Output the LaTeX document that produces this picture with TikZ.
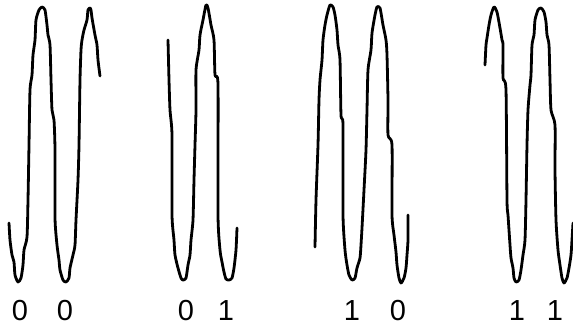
\documentclass[tikz,border=0pt]{standalone}
\usepackage{fontspec}
\setmainfont{Liberation Sans}
\usepackage{tikz}
\usetikzlibrary{positioning}

\begin{document}
\begin{tikzpicture}[
    x=1pt, y=-1pt,
    wave/.style={line width=2.8pt, line join=round, line cap=round},
    bit/.style={inner sep=0pt, font=\fontsize{29}{29}\selectfont}
]
\useasboundingbox (0,0) rectangle (573,328);

% 1. First pair of waves (0 0)
\draw[wave] plot[smooth, tension=0.4] coordinates {
    (9,223) (10,240) (12,255) (14,262) (15,275) (18,282) (21,278) (23,265)
    (24,250) (27,237) (28,200) (29,145) (30,90) (32,75) (33,55) (35,40)
    (36,20) (39,10) (42,7) (45,10) (47,25) (48,35) (50,45) (51,80) (52,110)
    (54,120) (55,150) (55,218) (57,245) (59,260) (60,270) (63,280) (66,282)
    (69,278) (70,268) (73,255) (75,245) (76,220) (78,180) (79,145) (80,80)
    (81,50) (82,40) (84,30) (87,20) (88,10) (90,8) (91,10) (92,18) (95,35)
    (97,45) (98,60) (100,76)};

% 2. Second pair of waves (0 1)
\draw[wave] plot[smooth, tension=0.4] coordinates {
    (168,40) (169,80) (170,110) (172,135) (172,215) (174,240) (175,255)
    (178,268) (181,278) (183,280) (186,278) (188,265) (190,255) (191,240)
    (193,220) (194,180) (195,145) (196,110) (196,70) (199,50) (200,35)
    (203,20) (206,5) (208,8) (211,25) (214,40) (215,75) (218,85) (218,215)
    (220,250) (222,262) (224,272) (226,279) (229,280) (232,278) (234,268)
    (236,250) (237,228)};

% 3. Third pair of waves (1 0)
\draw[wave] plot[smooth, tension=0.4] coordinates {
    (315,247) (316,200) (318,145) (319,100) (320,80) (322,60) (323,40)
    (325,25) (327,15) (330,5) (333,7) (335,15) (337,30) (338,45) (340,60)
    (341,115) (343,125) (343,215) (345,250) (347,265) (349,275) (352,280)
    (355,278) (357,268) (360,258) (361,245) (362,228) (364,190) (366,150)
    (367,110) (368,70) (371,50) (372,33) (375,15) (377,7) (380,8) (383,25)
    (386,40) (387,55) (388,100) (388,135) (392,145) (392,215) (394,235)
    (396,252) (397,265) (399,278) (401,283) (404,278) (406,268) (407,255)
    (408,240) (408,215)};

% 4. Fourth pair of waves (1 1)
\draw[wave] plot[smooth, tension=0.4] coordinates {
    (485,65) (486,45) (487,38) (489,25) (491,15) (494,7) (497,12) (500,28)
    (502,40) (503,45) (503,78) (506,90) (507,200) (508,215) (510,245)
    (511,258) (513,268) (514,278) (516,282) (519,280) (521,270) (523,255)
    (525,240) (526,200) (527,145) (528,110) (530,85) (531,75) (532,45)
    (534,35) (535,20) (538,10) (541,8) (544,12) (546,22) (547,35) (549,45)
    (550,80) (551,110) (555,125) (555,170) (556,220) (558,250) (560,265)
    (562,278) (564,283) (567,278) (569,268) (571,255) (572,240) (573,223)};

% 5. Bit labels under the troughs
\node[bit] (firstA)  at (20,311)  {0};
\node[bit] (firstB)  at (65,311)  {0};
\node[bit] (secondA) at (186,311) {0};
\node[bit] (secondB) at (226,311) {1};
\node[bit] (thirdA)  at (352,311) {1};
\node[bit] (thirdB)  at (398,311) {0};
\node[bit] (fourthA) at (517,311) {1};
\node[bit] (fourthB) at (555,311) {1};

\end{tikzpicture}
\end{document}
